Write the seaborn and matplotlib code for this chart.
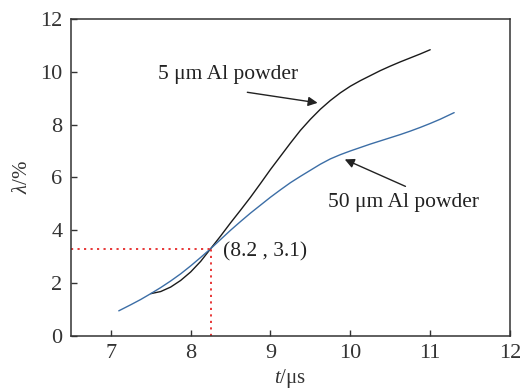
import pandas as pd
import matplotlib
matplotlib.use("Agg")
import matplotlib.pyplot as plt
import seaborn as sns

# curve data
t_5um = [7.5, 7.625, 7.75, 7.875, 8.0, 8.125, 8.25, 8.375, 8.5, 8.625, 8.75, 8.875,
         9.0, 9.125, 9.25, 9.375, 9.5, 9.625, 9.75, 9.875, 10.0, 10.125, 10.25,
         10.375, 10.5, 10.625, 10.75, 10.875, 11.0]
lam_5um = [1.6, 1.68, 1.85, 2.1, 2.42, 2.82, 3.3, 3.78, 4.28, 4.76, 5.25, 5.77,
           6.3, 6.8, 7.3, 7.78, 8.2, 8.58, 8.91, 9.2, 9.45, 9.66, 9.85,
           10.04, 10.21, 10.37, 10.52, 10.67, 10.83]

t_50um = [7.1, 7.25, 7.375, 7.5, 7.625, 7.75, 7.875, 8.0, 8.125, 8.25, 8.375, 8.5,
          8.625, 8.75, 8.875, 9.0, 9.125, 9.25, 9.375, 9.5, 9.625, 9.75, 9.875,
          10.0, 10.125, 10.25, 10.375, 10.5, 10.625, 10.75, 10.875, 11.0, 11.125, 11.3]
lam_50um = [0.95, 1.18, 1.38, 1.6, 1.83, 2.08, 2.35, 2.65, 2.97, 3.3, 3.65, 4.0,
            4.33, 4.65, 4.95, 5.25, 5.53, 5.8, 6.04, 6.27, 6.5, 6.7, 6.86,
            7.0, 7.13, 7.26, 7.38, 7.5, 7.62, 7.75, 7.89, 8.04, 8.2, 8.45]

x_ticks = [7, 8, 9, 10, 11, 12]
y_ticks = [0, 2, 4, 6, 8, 10, 12]
cross = (8.25, 3.3)

df5 = pd.DataFrame({"t": t_5um, "lam": lam_5um})
df50 = pd.DataFrame({"t": t_50um, "lam": lam_50um})

sns.set_style("ticks")
plt.rcParams["font.family"] = ["Liberation Serif", "DejaVu Serif"]
plt.rcParams["mathtext.fontset"] = "custom"
plt.rcParams["mathtext.rm"] = "Liberation Serif"
plt.rcParams["mathtext.it"] = "Liberation Serif:italic"

fig = plt.figure(figsize=(5.21, 3.92), dpi=100)
ax = fig.add_axes([0.136, 0.143, 0.843, 0.809])

sns.lineplot(data=df5, x="t", y="lam", color="#1a1a1a", lw=1.0, ax=ax)
sns.lineplot(data=df50, x="t", y="lam", color="#3c6ea6", lw=1.0, ax=ax)

# dotted guide lines to the crossing point
ax.plot([6.5, cross[0]], [cross[1], cross[1]], color="#e62828", lw=1.3, ls=(0, (1.2, 2.4)))
ax.plot([cross[0], cross[0]], [0, cross[1]], color="#e62828", lw=1.3, ls=(0, (1.2, 2.4)))

ax.set_xlim(6.5, 12)
ax.set_ylim(0, 12)
ax.set_xticks(x_ticks)
ax.set_yticks(y_ticks)
ax.tick_params(direction="in", length=4, width=1, colors="#333333", labelsize=16, pad=6)
for s in ax.spines.values():
    s.set_color("#333333")
    s.set_linewidth(1.1)

ax.set_xlabel(r"$t$/μs", fontsize=15, color="#333333", labelpad=3)
ax.set_ylabel(r"$\lambda$/%", fontsize=15, color="#333333", labelpad=6)

arrow = dict(arrowstyle="-|>", color="#222222", lw=1.0, mutation_scale=14, shrinkA=0, shrinkB=0)
ax.text(8.47, 9.9, "5 μm Al powder", ha="center", va="center", fontsize=15.5, color="#222222")
ax.annotate("", xy=(9.59, 8.82), xytext=(8.71, 9.22), arrowprops=arrow)
ax.text(10.66, 5.04, "50 μm Al powder", ha="center", va="center", fontsize=15.5, color="#222222")
ax.annotate("", xy=(9.93, 6.68), xytext=(10.69, 5.66), arrowprops=arrow)
ax.text(8.41, 3.19, "(8.2 , 3.1)", ha="left", va="center", fontsize=15.5, color="#222222")

plt.savefig("out.png", dpi=100)
